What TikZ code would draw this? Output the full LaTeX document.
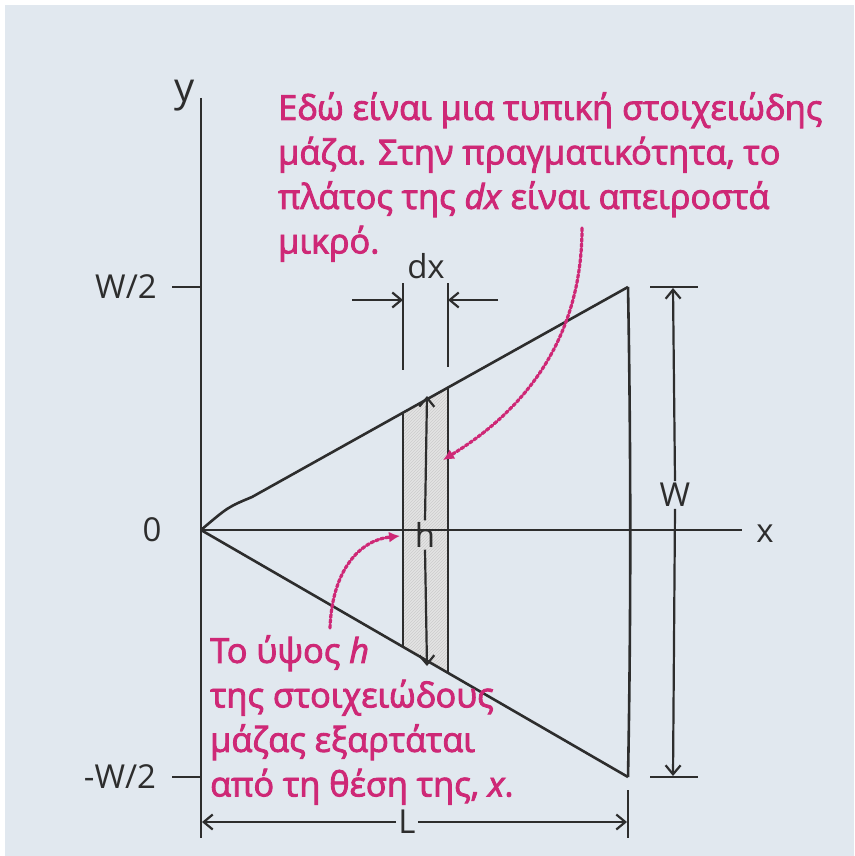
\documentclass[tikz,border=0pt]{standalone}
\usepackage{fontspec}
\setmainfont{Open Sans}
\newfontfamily\notefont{Open Sans}[FakeBold=2.6]
\usetikzlibrary{arrows.meta,positioning,patterns}

\definecolor{bgblue}{RGB}{225,232,239}
\definecolor{ink}{RGB}{45,45,45}
\definecolor{note}{RGB}{206,40,118}

\begin{document}
\begin{tikzpicture}[
  x=1pt, y=-1pt,
  >={Straight Barb[length=9pt,width=15pt]},
  edge/.style={draw=ink, line width=2.6pt},
  dim/.style={draw=ink, line width=2.2pt},
  lbl/.style={text=ink, font=\fontsize{33}{35}\selectfont, inner sep=2pt},
  notebox/.style={text=note, font=\notefont\fontsize{34.3}{44.5}\selectfont, align=left, inner sep=0pt},
  dots/.style={draw=note, line width=3.2pt, dotted, line cap=round, -{Latex[length=11pt,width=11pt]}},
]

% === BACKGROUND ===
\useasboundingbox (0,0) rectangle (854,856);
\fill[bgblue] (5,5) rectangle (854,856);

% === KEY POINTS ===
\coordinate (O) at (201,530);
\coordinate (tipU) at (628,287);
\coordinate (tipD) at (628,777);
\coordinate (yend) at (201,98);
\coordinate (xend) at (742,530);
\coordinate (sUL) at (403,413);
\coordinate (sUR) at (448,388);
\coordinate (sDL) at (403,647);
\coordinate (sDR) at (448,673);

% === STRIP ===
\fill[gray!22] (sUL) -- (sUR) -- (sDR) -- (sDL) -- cycle;
\fill[pattern=north east lines, pattern color=gray!40] (sUL) -- (sUR) -- (sDR) -- (sDL) -- cycle;

% === AXES ===
\draw[edge] (yend) -- (201,838);
\draw[edge] (O) -- (xend);
\node[lbl, font=\fontsize{40}{40}\selectfont] (ylab) at (185,96) {y};
\node[lbl] (xlab) at (765,534) {x};
\node[lbl] (zero) at (152,530) {0};
\node[lbl] (wtop) at (126,287) {W/2};
\node[lbl] (wbot) at (120,777) {-W/2};
\draw[dim] (172,287) -- (201,287);
\draw[dim] (172,777) -- (201,777);

% === TRIANGLE ===
\draw[edge] (O) .. controls (228,507) .. (252,497) -- (tipU);
\draw[edge] (O) -- (tipD);
\draw[edge] (tipU) .. controls (631,450) and (631,620) .. (tipD);
\draw[edge] (sUL) -- (sDL);
\draw[edge] (sUR) -- (sDR);

% === dx ===
\draw[dim] (403,283) -- (403,370);
\draw[dim] (448,283) -- (448,367);
\node[lbl] (dx) at (426,266) {dx};
\draw[dim,->] (352,300) -- (403,300);
\draw[dim,->] (498,300) -- (448,300);

% === h ===
\node[lbl] (h) at (425,535) {h};
\draw[dim,->] (h.north) -- (427,396);
\draw[dim,->] (h.south) -- (427,666);

% === W ===
\node[lbl] (W) at (675,495) {W};
\draw[dim] (650,287) -- (698,287);
\draw[dim] (650,777) -- (698,777);
\draw[dim,->] (W.north) -- (673,288);
\draw[dim,->] (W.south) -- (673,776);

% === L ===
\draw[dim] (628,790) -- (628,838);
\node[lbl] (L) at (407,822) {L};
\draw[dim,->] (L.west) -- (202,822);
\draw[dim,->] (L.east) -- (627,822);

% === NOTES ===
\node[notebox, anchor=north west] (note1) at (278,92)
  {Εδώ είναι μια τυπική στοιχειώδης\\μάζα. Στην πραγματικότητα, το\\πλάτος της \textit{dx} είναι απειροστά\\μικρό.};
\node[notebox, anchor=north west] (note2) at (210,635)
  {Το ύψος \textit{h}\\της στοιχειώδους\\μάζας εξαρτάται\\από τη θέση της, \textit{x}.};

\coordinate (n1) at (582,228);
\coordinate (n2) at (330,628);
\draw[dots] (n1) .. controls (582,360) and (500,425) .. (443,460);
\draw[dots] (n2) .. controls (332,570) and (360,540) .. (400,536);

\end{tikzpicture}
\end{document}
